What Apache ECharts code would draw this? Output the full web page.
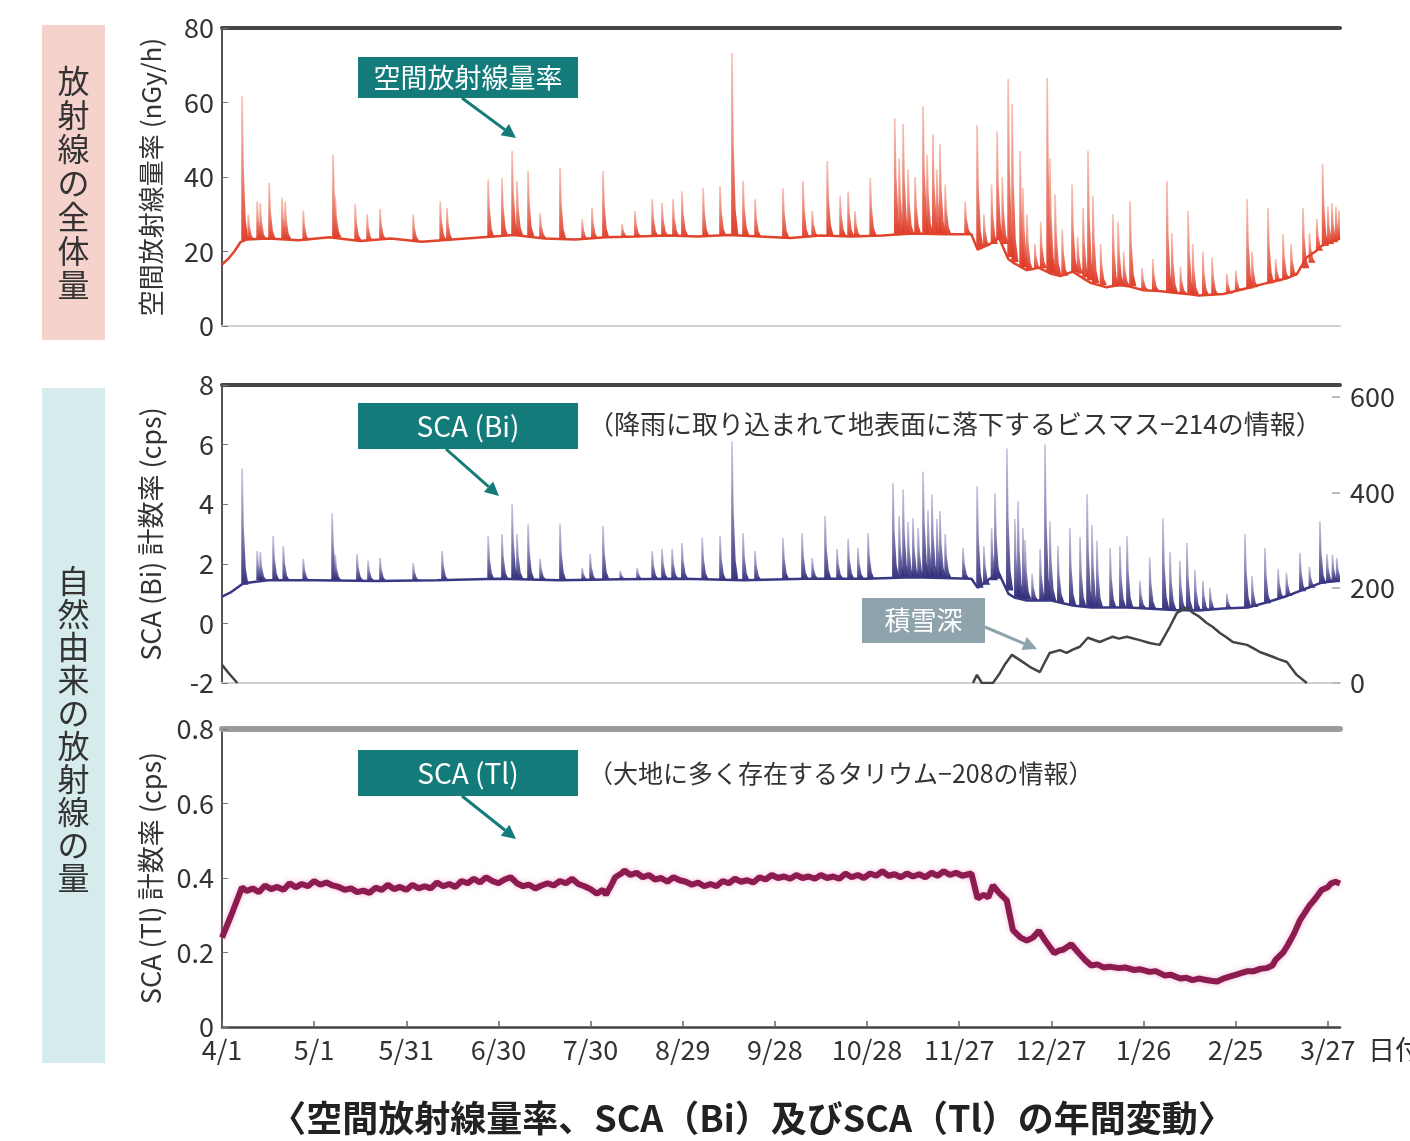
<!DOCTYPE html>
<html><head><meta charset="utf-8">
<script src="https://cdn.jsdelivr.net/npm/echarts@6/dist/echarts.min.js"></script>
<style>html,body{margin:0;padding:0;background:#fff}#c{width:1410px;height:1141px}</style>
</head><body><div id="c"></div>
<script>
// ---- tick labels (x = days from 4/1) ----
const dateLabels = ['4/1','5/1','5/31','6/30','7/30','8/29','9/28','10/28','11/27','12/27','1/26','2/25','3/27'];

// ---- air dose rate (nGy/h): baseline [day, value] ----
const doseBase = [[0,16.5],[2,18],[4,20],[6,22.5],[8,23.2],[15,23.5],[25,23],[35,23.8],[45,22.8],[55,23.5],[65,22.6],[75,23.2],[85,23.8],[95,24.4],[105,23.5],[115,23.2],[125,23.8],[135,24],[145,24.3],[155,24],[165,24.4],[175,24],[185,23.6],[195,24.3],[205,24],[215,24.3],[225,24.8],[235,24.6],[244,24.6],[246,20.5],[250,22],[253,23.6],[256,18],[258,16.8],[262,15],[266,15.6],[270,14],[273,13.4],[277,14.6],[280,13],[283,11.5],[288,10.4],[292,11],[295,10.7],[300,9.6],[305,9.4],[310,8.9],[315,8.5],[318,8.2],[322,8.4],[326,8.6],[330,9.4],[334,10.2],[340,11.5],[347,12.9],[350,14],[353,18.3],[356,20],[358,21.5],[361,22.5],[364,23.6]];
// rain events [day, base, peak]
const doseSpikes = [[6.5,23,61.7],[8.5,23.2,30],[11.4,23.3,33.5],[12.4,23.3,33],[15.3,23.5,38.4],[19.5,23.3,34.4],[20.5,23.3,33.5],[26.4,23,31],[36.1,23.8,46],[36.8,23.8,35],[43.3,23,32.7],[47.2,22.8,30],[51.4,23.2,31.4],[62.2,22.8,30],[71,23,33.5],[73.2,23.1,31.7],[86.6,23.8,39.4],[91.1,24.1,39.7],[94.4,24.4,47],[96,24.3,39],[99.6,24,41.6],[103.5,23.6,30.3],[110,23.3,42.4],[117.2,23.3,28.7],[120.4,23.5,31.7],[124,23.7,41.6],[130.2,23.9,27.4],[134.4,24,30.9],[140,24.1,34],[143.2,24.2,33],[146.8,24.2,34],[149.7,24.2,36.2],[156.6,24,37],[162.1,24.2,37.6],[166,24.4,73.3],[169.6,24.3,39],[173.5,24,34],[182.6,23.7,37],[189.1,23.9,39],[192.1,24.1,30.9],[197,24.3,44.3],[201.2,24.2,34.9],[203.8,24.1,36.2],[206,24,30.9],[211,24.2,39.7],[219,24.4,55.8],[220.4,24.4,45],[221.7,24.5,54.2],[223.3,24.5,42],[225.6,24.7,40],[228.2,24.7,59],[229.5,24.7,46],[231.4,24.6,51.5],[232.7,24.6,42],[233.7,24.6,48.9],[235.4,24.6,38],[241.9,24.6,33.5],[245.8,21,54],[248,21.5,30],[250.5,22,38],[252.3,23.2,52.3],[254,22,40],[255.9,18.5,66.3],[257.2,17.2,59.6],[259.8,16,47],[260.7,15.8,37],[262,15,30],[264.6,15.3,22],[266.5,15.5,28],[268.6,14.6,66.6],[269.5,14.2,45],[271.2,13.7,35.4],[273.5,13.5,26],[276.7,14.5,38],[278.5,14,24],[280.3,13,31.7],[281.9,12.3,47],[283.5,11.5,35],[286,11,22],[290,10.6,30],[291.7,11,28],[293.5,10.8,20],[295.6,10.7,33.5],[299.5,9.7,15.6],[303,9.5,18],[307.6,9.2,39],[309.2,8.9,25],[312,8.7,16],[314.5,8.6,30.9],[316,8.4,22],[319.3,8.2,20],[322.3,8.4,18.3],[327.1,8.7,14],[330,9.4,15],[333.7,10.1,34],[335.3,10.4,20],[340.5,11.5,31.7],[343,12,18],[345.4,12.6,24.7],[348,13.5,22],[351.9,15.5,31.7],[354,17,25],[356.4,20.2,28.7],[358.3,21.5,43.5],[360,22,32],[361.3,22.5,33],[362.6,23,32],[363.6,23.4,31]];

// ---- SCA(Bi) count rate (cps) ----
const biBase = [[0,0.9],[3,1.05],[7,1.35],[15,1.45],[30,1.45],[50,1.42],[70,1.45],[90,1.5],[110,1.45],[130,1.48],[150,1.5],[170,1.45],[190,1.5],[210,1.5],[225,1.55],[244,1.5],[246,1.2],[250,1.5],[253,1.67],[256,1.0],[258,0.87],[262,0.77],[270,0.77],[277,0.6],[283,0.53],[295,0.53],[301,0.5],[310,0.45],[318,0.43],[326,0.5],[334,0.53],[340,0.7],[347,0.93],[353,1.17],[358,1.37],[364,1.43]];
const biSpikes = [[6.5,1.3,5.2],[11.4,1.45,2.43],[12.4,1.45,2.4],[16.6,1.45,2.93],[19.9,1.45,2.6],[26.4,1.45,2.17],[35.8,1.45,3.7],[36.8,1.45,2.3],[43.9,1.44,2.33],[47.5,1.44,2.1],[51.4,1.43,2.2],[62.2,1.44,2.03],[71.6,1.45,2.43],[86.6,1.48,2.93],[91.1,1.5,3],[94.4,1.5,4],[96,1.5,3],[99.6,1.48,3.33],[103.5,1.47,2.17],[110,1.45,3.33],[117.2,1.46,1.87],[119.8,1.46,2.33],[124,1.47,3.27],[129.6,1.48,1.77],[135.1,1.48,1.87],[140,1.49,2.43],[143.2,1.5,2.5],[146.5,1.5,2.5],[149.7,1.5,2.7],[156.3,1.48,2.87],[162.1,1.46,2.93],[166,1.45,6.1],[169.6,1.45,3.03],[173.5,1.46,2.43],[182.6,1.48,2.87],[188.8,1.5,3.03],[192.1,1.5,2.2],[196.3,1.5,3.6],[200.2,1.5,2.5],[203.8,1.5,2.83],[207,1.5,2.53],[210.3,1.5,3.03],[218.4,1.52,4.7],[220.4,1.52,3.6],[221.7,1.53,4.5],[223.3,1.53,3.4],[224.9,1.54,3.53],[226.6,1.54,3.2],[228.2,1.55,5.1],[229.8,1.55,3.8],[231.1,1.54,4.33],[232.7,1.54,3.5],[233.7,1.54,3.77],[235.4,1.53,3],[241.2,1.51,2.53],[245.8,1.2,4.6],[248,1.3,2.6],[250.5,1.45,3.2],[251.6,1.5,4.37],[255.5,1.1,5.87],[258.1,0.87,3.5],[259.1,0.85,4.1],[260.7,0.82,3.2],[261.4,0.8,2.8],[263.7,0.78,1.67],[266.3,0.77,2.5],[267.9,0.77,6],[269.5,0.77,3.43],[272.1,0.72,2.6],[276,0.62,3.2],[279.3,0.57,2.9],[281.6,0.55,4.33],[283.2,0.53,3.3],[284.8,0.53,2.77],[289.1,0.53,2.53],[292.3,0.53,2.6],[294.6,0.53,2.93],[298.8,0.51,1.43],[302,0.5,2.2],[306.3,0.48,3.53],[308.6,0.47,2.4],[311.8,0.45,2.1],[314.1,0.44,2.7],[316.7,0.44,1.8],[319.3,0.43,1.43],[321.6,0.45,1.2],[327.1,0.5,1],[333,0.53,3],[335.3,0.55,1.6],[339.5,0.68,2.53],[343.8,0.85,1.83],[346.5,0.92,1.7],[350.9,1.08,2.37],[354,1.2,1.9],[357.4,1.33,3.43],[359.7,1.38,2.33],[361.5,1.4,2.3],[362.9,1.42,2.2]];

// ---- snow depth (cm, right axis) ----
const snowSpring = [[0,38],[2,22],[5,0]];
const snowWinter = [[244.5,0],[245.8,17],[247.4,0],[251,0],[253.3,21],[255,40],[257.2,59],[259.8,48],[263,34],[266.3,23],[268,45],[269.5,63],[272.8,69],[275,63],[277,70],[279.3,76],[281.9,95],[285.8,86],[288,92],[290,97],[292,93],[294.6,97],[298.8,90],[302,84],[305.3,80],[308.6,118],[310.9,147],[314.1,158],[316.1,147],[318,140],[320.6,126],[322.5,118],[324.9,105],[327,96],[329.1,86],[333.7,80],[336,72],[337.9,65],[342.1,55],[344,50],[346.7,44],[349.9,17],[353.2,0]];

// ---- SCA(Tl) count rate (cps) ----
const tlRate = [[0,0.24],[3,0.3],[6.5,0.375],[8,0.365],[10,0.372],[12,0.362],[14,0.38],[16,0.37],[18,0.376],[20,0.368],[22,0.386],[24,0.375],[26,0.384],[28,0.378],[30,0.392],[32,0.382],[34,0.388],[36,0.38],[38,0.376],[40,0.368],[42,0.372],[44,0.362],[46,0.366],[48,0.36],[50,0.374],[52,0.368],[54,0.382],[56,0.37],[58,0.376],[60,0.368],[62,0.382],[64,0.372],[66,0.378],[68,0.372],[70,0.388],[72,0.378],[74,0.384],[76,0.376],[78,0.392],[80,0.386],[82,0.398],[84,0.388],[86,0.402],[88,0.392],[90,0.386],[92,0.396],[94,0.402],[96,0.386],[98,0.378],[100,0.382],[102,0.372],[104,0.38],[106,0.386],[108,0.38],[110,0.392],[112,0.386],[114,0.398],[116,0.384],[118,0.378],[120,0.37],[122,0.358],[124,0.368],[125,0.355],[127,0.385],[128,0.402],[130,0.412],[131,0.42],[133,0.408],[135,0.414],[137,0.402],[139,0.408],[141,0.396],[143,0.4],[145,0.39],[147,0.402],[149,0.394],[151,0.39],[153,0.382],[155,0.388],[157,0.378],[159,0.384],[161,0.378],[163,0.392],[165,0.386],[167,0.398],[169,0.39],[171,0.394],[173,0.388],[175,0.402],[177,0.396],[179,0.408],[181,0.4],[183,0.404],[185,0.398],[187,0.408],[189,0.4],[191,0.404],[193,0.398],[195,0.408],[197,0.4],[199,0.404],[201,0.398],[203,0.412],[205,0.402],[207,0.408],[209,0.4],[211,0.412],[213,0.406],[215,0.418],[217,0.406],[219,0.41],[221,0.402],[223,0.412],[225,0.404],[227,0.41],[229,0.402],[231,0.414],[233,0.406],[235,0.418],[237,0.408],[239,0.414],[241,0.406],[244,0.412],[246,0.345],[248,0.355],[249.5,0.348],[251,0.38],[253,0.36],[255.5,0.34],[257.5,0.26],[260,0.24],[262,0.232],[264,0.24],[266,0.258],[268,0.232],[271,0.198],[272.5,0.205],[274,0.208],[276.5,0.222],[279,0.198],[281,0.18],[283,0.165],[285,0.168],[287,0.16],[289,0.162],[292,0.158],[294,0.16],[297,0.153],[299,0.155],[302,0.148],[304,0.15],[307,0.138],[309,0.14],[312,0.13],[314,0.132],[316,0.126],[318,0.13],[320,0.127],[322,0.124],[324,0.122],[326,0.13],[328,0.135],[330,0.14],[332,0.145],[334,0.15],[336,0.15],[338,0.156],[340,0.158],[342,0.165],[343,0.18],[345.5,0.2],[347,0.22],[349,0.25],[351,0.287],[354,0.325],[356,0.345],[358,0.368],[360,0.375],[361,0.385],[362.5,0.39],[364,0.385]];

const FONT = "'Noto Sans CJK JP','Noto Sans',sans-serif";
const chart = echarts.init(document.getElementById('c'), null, {renderer:'canvas'});

function spikeRenderer(topColor, baseColor){
  return function(params, api){
    const b = api.coord([api.value(0), api.value(1)]);
    const p = api.coord([api.value(0), api.value(2)]);
    const h = b[1] - p[1];
    const x = b[0];
    return {
      type:'polygon',
      shape:{points:[[x-0.7,b[1]],[x-0.7,p[1]],[x+1,p[1]],[x+1.8,p[1]+h*0.5],[x+3.8,b[1]-h*0.14],[x+6.5,b[1]]]},
      style:{fill:new echarts.graphic.LinearGradient(0,0,0,1,[{offset:0,color:topColor},{offset:1,color:baseColor}])}
    };
  };
}

function arrow(x1,y1,x2,y2,color,w){
  const dx=x2-x1, dy=y2-y1, L=Math.hypot(dx,dy), ux=dx/L, uy=dy/L;
  const hl=14, hw=7, bx=x2-ux*hl, by=y2-uy*hl;
  return [
    {type:'line', shape:{x1:x1,y1:y1,x2:bx,y2:by}, style:{stroke:color,lineWidth:w}, silent:true},
    {type:'polygon', shape:{points:[[x2,y2],[bx-uy*hw,by+ux*hw],[bx+uy*hw,by-ux*hw]]}, style:{fill:color}, silent:true}
  ];
}
function label(x,y,w,h,fill,text,fs){
  return [
    {type:'rect', shape:{x:x,y:y,width:w,height:h}, style:{fill:fill}, silent:true},
    {type:'text', x:x+w/2, y:y+h/2, style:{text:text, fill:'#fff', fontSize:fs, fontFamily:FONT, align:'center', verticalAlign:'middle'}, silent:true}
  ];
}

const xBase = {type:'value', min:0, max:364, interval:30, splitLine:{show:false}, axisLabel:{show:false}, axisTick:{show:false}};
const labelStyle = {color:'#333', fontSize:27, fontFamily:FONT};
const gridBase = {left:222, width:1118, containLabel:false, outerBoundsMode:'none'};

const option = {
  animation:false,
  backgroundColor:'#fff',
  grid:[
    Object.assign({top:28, height:298}, gridBase),
    Object.assign({top:385, height:298}, gridBase),
    Object.assign({top:729, height:298}, gridBase)
  ],
  xAxis:[
    Object.assign({}, xBase, {gridIndex:0, axisLine:{onZero:false, lineStyle:{color:'#d0d0d0', width:2}}}),
    Object.assign({}, xBase, {gridIndex:0, position:'top', axisLine:{onZero:false, lineStyle:{color:'#464646', width:4}}}),
    Object.assign({}, xBase, {gridIndex:1, axisLine:{onZero:false, lineStyle:{color:'#d0d0d0', width:2}}}),
    Object.assign({}, xBase, {gridIndex:1, position:'top', axisLine:{onZero:false, lineStyle:{color:'#464646', width:4}}}),
    Object.assign({}, xBase, {gridIndex:2, axisLine:{onZero:false, lineStyle:{color:'#444', width:2.5}},
      axisTick:{show:true, inside:true, length:6, lineStyle:{color:'#666', width:1.5}},
      axisLabel:{show:true, margin:9, showMaxLabel:false, color:'#333', fontSize:27, fontFamily:FONT,
        formatter:function(v){ const i = Math.round(v/30); return (Math.abs(v - i*30) < 0.01 && dateLabels[i]) ? dateLabels[i] : ''; }},
      name:'日付', nameLocation:'end', nameGap:28,
      nameTextStyle:{color:'#333', fontSize:27, fontFamily:FONT, align:'left', verticalAlign:'top', padding:[9,0,0,0]}}),
    Object.assign({}, xBase, {gridIndex:2, position:'top', axisLine:{onZero:false, lineStyle:{color:'#9c9c9c', width:6}}})
  ],
  yAxis:[
    {type:'value', gridIndex:0, min:0, max:80, interval:20, splitLine:{show:false},
      axisLine:{show:true, onZero:false, lineStyle:{color:'#555', width:2}}, axisTick:{show:true, inside:true, length:6, lineStyle:{color:'#777'}},
      axisLabel:Object.assign({margin:8}, labelStyle),
      name:'空間放射線量率 (nGy/h)', nameLocation:'middle', nameGap:58, nameTextStyle:{color:'#333', fontSize:26, fontFamily:FONT}},
    {type:'value', gridIndex:1, min:-2, max:8, interval:2, splitLine:{show:false},
      axisLine:{show:true, onZero:false, lineStyle:{color:'#555', width:2}}, axisTick:{show:true, inside:true, length:6, lineStyle:{color:'#777'}},
      axisLabel:Object.assign({margin:8}, labelStyle),
      name:'SCA (Bi) 計数率 (cps)', nameLocation:'middle', nameGap:58, nameTextStyle:{color:'#333', fontSize:27, fontFamily:FONT}},
    {type:'value', gridIndex:1, position:'right', min:0, max:625, interval:200, splitLine:{show:false},
      axisLine:{show:false, onZero:false}, axisTick:{show:true, inside:true, length:8, lineStyle:{color:'#bbb', width:2}},
      axisLabel:Object.assign({margin:10, showMaxLabel:false}, labelStyle)},
    {type:'value', gridIndex:2, min:0, max:0.8, interval:0.2, splitLine:{show:false},
      axisLine:{show:true, onZero:false, lineStyle:{color:'#555', width:2}}, axisTick:{show:true, inside:true, length:6, lineStyle:{color:'#777'}},
      axisLabel:Object.assign({margin:8, formatter:function(v){return v===0?'0':v.toFixed(1);}}, labelStyle),
      name:'SCA (Tl) 計数率 (cps)', nameLocation:'middle', nameGap:58, nameTextStyle:{color:'#333', fontSize:27, fontFamily:FONT}}
  ],
  series:[
    {type:'custom', xAxisIndex:0, yAxisIndex:0, clip:true, data:doseSpikes, encode:{x:0, y:[1,2]},
      renderItem:spikeRenderer('rgba(245,175,158,0.75)','rgba(222,55,35,0.95)')},
    {type:'line', xAxisIndex:0, yAxisIndex:0, data:doseBase, symbol:'none', lineStyle:{color:'#e0442c', width:2.5}},
    {type:'custom', xAxisIndex:2, yAxisIndex:1, clip:true, data:biSpikes, encode:{x:0, y:[1,2]},
      renderItem:spikeRenderer('rgba(185,178,212,0.75)','rgba(45,42,120,0.95)')},
    {type:'line', xAxisIndex:2, yAxisIndex:1, data:biBase, symbol:'none', lineStyle:{color:'#3a3884', width:2.5}},
    {type:'line', xAxisIndex:2, yAxisIndex:2, data:snowSpring, symbol:'none', lineStyle:{color:'#444', width:2.5}},
    {type:'line', xAxisIndex:2, yAxisIndex:2, data:snowWinter, symbol:'none', lineStyle:{color:'#444', width:2.5}},
    {type:'line', xAxisIndex:4, yAxisIndex:3, data:tlRate, symbol:'none',
      lineStyle:{color:'#8c1b50', width:6, shadowColor:'rgba(225,120,175,0.55)', shadowBlur:5}}
  ],
  graphic:[
    {type:'rect', shape:{x:42,y:25,width:63,height:315}, style:{fill:'#f6d2cd'}, silent:true},
    {type:'text', x:73.5, y:183, style:{text:'放\n射\n線\nの\n全\n体\n量', fill:'#333', fontSize:32, lineHeight:34, fontFamily:FONT, align:'center', verticalAlign:'middle'}, silent:true},
    {type:'rect', shape:{x:42,y:388,width:63,height:675}, style:{fill:'#d6ecec'}, silent:true},
    {type:'text', x:73.5, y:729, style:{text:'自\n然\n由\n来\nの\n放\n射\n線\nの\n量', fill:'#333', fontSize:32, lineHeight:33, fontFamily:FONT, align:'center', verticalAlign:'middle'}, silent:true}
  ]
  .concat(label(358,57,220,41,'#137c7a','空間放射線量率',27))
  .concat(arrow(462,98,516,138,'#137c7a',3))
  .concat(label(358,403,220,46,'#137c7a','SCA (Bi)',28))
  .concat(arrow(446,449,499,496,'#137c7a',3))
  .concat([{type:'text', x:588, y:424, style:{text:'（降雨に取り込まれて地表面に落下するビスマス−214の情報）', fill:'#333', fontSize:26, fontFamily:FONT, align:'left', verticalAlign:'middle'}, silent:true}])
  .concat(label(358,750,220,46,'#137c7a','SCA (Tl)',28))
  .concat(arrow(462,796,516,839,'#137c7a',3))
  .concat([{type:'text', x:588, y:773, style:{text:'（大地に多く存在するタリウム−208の情報）', fill:'#333', fontSize:25, fontFamily:FONT, align:'left', verticalAlign:'middle'}, silent:true}])
  .concat(label(862,598,123,45,'#8fa3ac','積雪深',26))
  .concat(arrow(985,627,1037,649,'#8fa3ac',3))
  .concat([{type:'text', x:752, y:1118, style:{text:'〈空間放射線量率、SCA（Bi）及びSCA（Tl）の年間変動〉', fill:'#222', fontSize:36, fontWeight:'bold', fontFamily:FONT, align:'center', verticalAlign:'middle'}, silent:true}])
};
chart.setOption(option);
</script>
</body></html>
